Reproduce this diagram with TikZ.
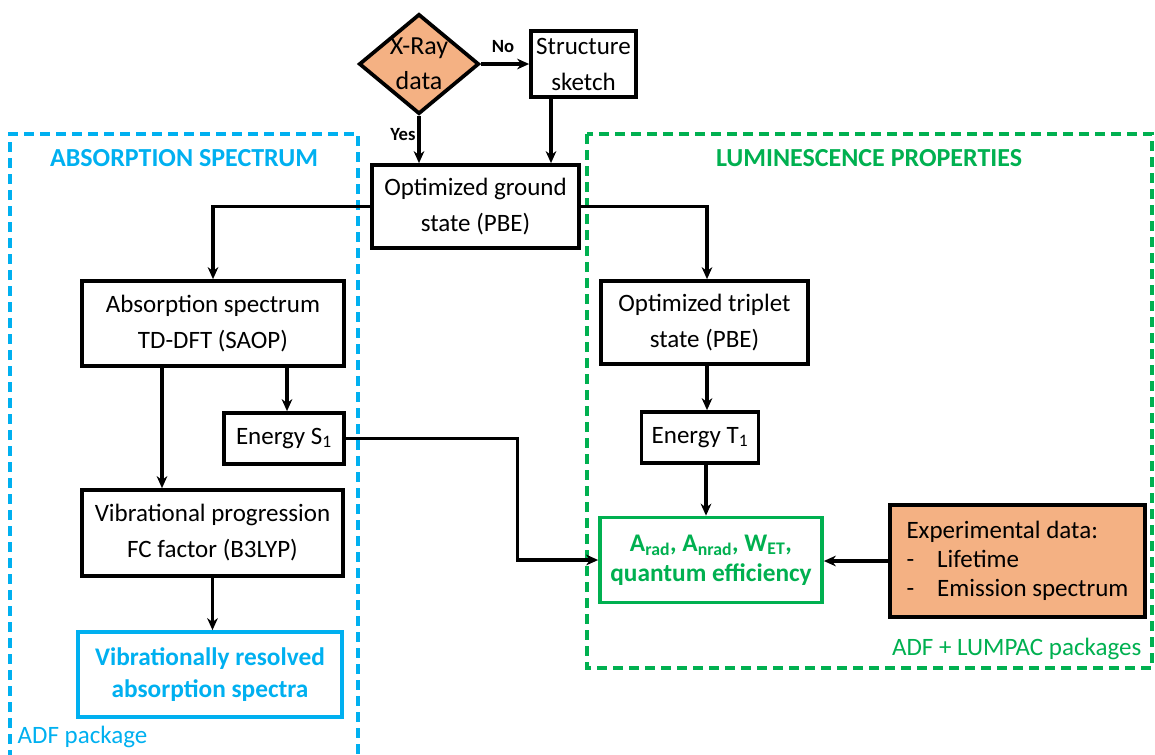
\documentclass[tikz,border=0pt]{standalone}
\usepackage{fontspec}
\setmainfont{Carlito}
\usetikzlibrary{shapes.geometric,arrows.meta,calc}
\definecolor{cblue}{RGB}{0,176,240}
\definecolor{cgreen}{RGB}{0,176,80}
\definecolor{corange}{RGB}{244,177,131}
\begin{document}
\begin{tikzpicture}[x=0.75pt,y=-0.75pt,
  font=\fontsize{18.75}{27}\selectfont,
  sz/.style 2 args={minimum width=#1*0.75pt, minimum height=#2*0.75pt},
  box/.style={draw=black, line width=2.8pt, inner sep=0pt, align=center, fill=white},
  conn/.style={line width=2.3pt, -{Stealth[length=9pt,width=8pt]}},
  dashbox/.style={line width=2.6pt, dash pattern=on 7.5pt off 4.5pt},
  lab/.style={font=\fontsize{14}{16}\selectfont\bfseries},
  title/.style={font=\fontsize{19.5}{22}\selectfont\bfseries}
]
\useasboundingbox (0,0) rectangle (1155,754);
% dashed frames
\draw[dashbox, cblue] (10,760) -- (10,134) -- (358,134) -- (358,760);
\draw[dashbox, cgreen] (587,134) rectangle (1152,668);
\node[title, text=cblue] (tabs) at (184,158) {ABSORPTION SPECTRUM};
\node[title, text=cgreen] (tlum) at (869,158) {LUMINESCENCE PROPERTIES};
\node[text=cblue, anchor=west] (adf) at (13,737) {ADF package};
\node[text=cgreen, anchor=east] (lumpac) at (1146,649) {ADF + LUMPAC packages};

% nodes
\node[diamond, draw=black, fill=corange, line width=2.8pt, inner sep=0pt, sz={120}{100},
      label={[align=center, font=\fontsize{19.5}{26}\selectfont]center:X-Ray\\data}] (xray) at (419,64) {};
\node[box, sz={105}{66}] (struct) at (583.5,64) {Structure\\sketch};
\node[box, sz={207}{83}] (ground) at (475.5,206.5) {Optimized ground\\state (PBE)};
\node[box, sz={262}{85}] (absorb) at (213,323.5) {Absorption spectrum\\TD-DFT (SAOP)};
\node[box, sz={120}{51}] (S1) at (284,438.5) {Energy S\textsubscript{1}};
\node[box, sz={261}{86}] (vib) at (212.5,533) {Vibrational progression\\FC factor (B3LYP)};
\node[box, draw=cblue, text=cblue, font=\fontsize{19}{23.5}\selectfont\bfseries, sz={264}{85}] (res) at (210,674.5) {Vibrationally resolved\\absorption spectra};
\node[box, sz={207}{83}] (triplet) at (704.5,322.5) {Optimized triplet\\state (PBE)};
\node[box, sz={117}{51}] (T1) at (700,437.5) {Energy T\textsubscript{1}};
\node[box, draw=cgreen, text=cgreen, font=\fontsize{19}{22.5}\selectfont\bfseries, sz={222}{85}] (green) at (711,560) {A\textsubscript{rad}, A\textsubscript{nrad}, W\textsubscript{ET},\\quantum efficiency};
\node[box, fill=corange, sz={255}{112}, align=left, font=\fontsize{18.75}{21.75}\selectfont] (exp) at (1017.5,561)
  {Experimental data:\\\makebox[23pt][l]{-}Lifetime\\\makebox[23pt][l]{-}Emission spectrum};

% labels
\node[lab] (no) at (503,47) {No};
\node[lab] (yes) at (403,135) {Yes};

% connectors
\draw[conn] (xray.east) -- (struct.west);
\draw[conn] (xray.south) -- (xray.south |- ground.north);
\coordinate (sdown) at ($(struct.south)+(-32.5,0)$);
\draw[conn] (sdown) -- (sdown |- ground.north);
\draw[conn] (ground.west) -| (absorb.north);
\draw[conn] (ground.east) -| ($(triplet.north)+(2.5,0)$);
\coordinate (adown) at ($(absorb.south)+(-51,0)$);
\draw[conn] (adown) -- (adown |- vib.north);
\coordinate (sdn) at ($(absorb.south)+(74,0)$);
\draw[conn] (sdn) -- (sdn |- S1.north);
\draw[conn] (vib.south) -- (vib.south |- res.north);
\draw[conn] (S1.east) -- ++(172,0) |- (green.west);
\coordinate (vx) at (707,0);
\draw[conn] (triplet.south -| vx) -- (T1.north -| vx);
\coordinate (vy) at (706,0);
\draw[conn] (T1.south -| vy) -- (green.north -| vy);
\draw[conn] (exp.west) -- (exp.west -| green.east);
\end{tikzpicture}
\end{document}
